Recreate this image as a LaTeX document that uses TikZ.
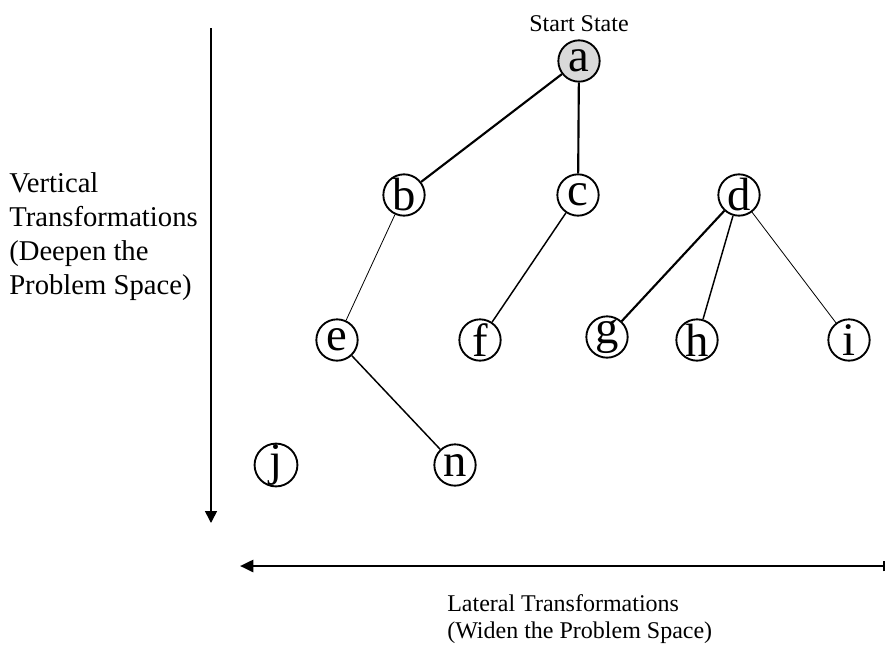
\documentclass[tikz,border=0pt]{standalone}
\usepackage{fontspec}
\setmainfont{Liberation Serif}
\usepackage{tikz}
\usetikzlibrary{arrows.meta,positioning}

\begin{document}
\begin{tikzpicture}[x=0.75pt, y=-0.75pt]
    % Define styles
    \tikzstyle{state} = [circle, draw, line width=1.4pt, minimum size=31pt, inner sep=0pt, font=\fontsize{35}{36}\selectfont]
    \tikzstyle{thickedge} = [line width=1.6pt]
    \tikzstyle{midedge} = [line width=1.1pt]
    \tikzstyle{thinedge} = [line width=0.6pt]
    \tikzstyle{caption} = [align=left, anchor=north west, inner sep=0pt]
    \useasboundingbox (0,0) rectangle (885,646);

    % Nodes
    \node [state, fill=black!15] (a) at (579,61) {a};
    \node [font=\fontsize{18}{20}\selectfont, above=2pt of a] (start) {Start State};
    \node [state] (b) at (404,195) {b};
    \node [state] (c) at (578,195) {c};
    \node [state] (d) at (739,195) {d};
    \node [state] (e) at (337,340) {e};
    \node [state] (f) at (480,340) {f};
    \node [state] (g) at (607,337) {g};
    \node [state] (h) at (697,340) {h};
    \node [state] (i) at (849,340) {i};
    \node [state] (j) at (276,465) {j};
    \node [state] (n) at (455,465) {n};

    % Edges
    \draw [thickedge] (a) -- (b);
    \draw [thickedge] (a) -- (c);
    \draw [thinedge] (b) -- (e);
    \draw [midedge] (c) -- (f);
    \draw [thickedge] (d) -- (g);
    \draw [midedge] (d) -- (h);
    \draw [thinedge] (d) -- (i);
    \draw [midedge] (e) -- (n);

    % Axes
    \coordinate (vtop) at (211,28);
    \coordinate (vbot) at (211,523);
    \coordinate (hright) at (884,566);
    \coordinate (hleft) at (240,566);
    \draw [line width=1.2pt, -{Triangle[length=9pt, width=9pt]}] (vtop) -- (vbot);
    \draw [line width=2pt, -{Triangle[length=10pt, width=9pt]}] (hright) -- (hleft);
    \draw [line width=1pt] ([yshift=-4pt]hright) -- ([yshift=4pt]hright);

    % Labels
    \node [caption, font=\fontsize{21.5}{25.5}\selectfont] (vlabel) at (9,172) {Vertical\\Transformations\\(Deepen the\\Problem Space)};
    \node [caption, font=\fontsize{18}{20.5}\selectfont] (hlabel) at (447,594) {Lateral Transformations\\(Widen the Problem Space)};
\end{tikzpicture}
\end{document}
